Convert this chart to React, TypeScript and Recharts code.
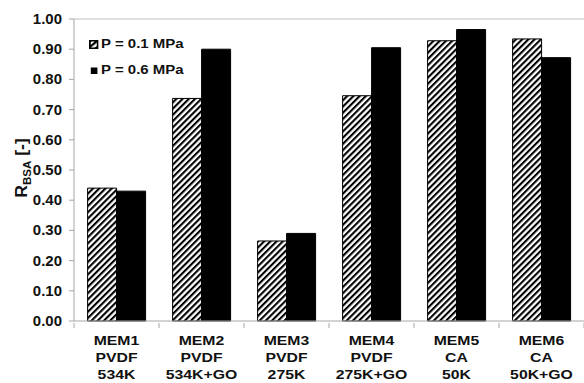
import { BarChart, Bar, XAxis, YAxis, ReferenceLine } from "recharts";

const membranes = ["MEM1", "MEM2", "MEM3", "MEM4", "MEM5", "MEM6"];
const materials = ["PVDF", "PVDF", "PVDF", "PVDF", "CA", "CA"];
const weights = ["534K", "534K+GO", "275K", "275K+GO", "50K", "50K+GO"];

const lowPressure = [0.44, 0.737, 0.265, 0.746, 0.928, 0.934];
const highPressure = [0.43, 0.9, 0.29, 0.905, 0.965, 0.872];

const seriesNames = ["P = 0.1 MPa", "P = 0.6 MPa"];

const yTicks = [0, 0.1, 0.2, 0.3, 0.4, 0.5, 0.6, 0.7, 0.8, 0.9, 1.0];

const data = membranes.map((m, i) => ({
  name: m,
  material: materials[i],
  weight: weights[i],
  low: lowPressure[i],
  high: highPressure[i],
}));

const FONT = "'Liberation Sans', Arial, sans-serif";

const CategoryTick = ({ x, y, payload, index, width }: any) => {
  const row = data[payload.index ?? index] || data[0];
  const band = (width || 510) / data.length;
  return (
    <g>
      <line x1={x - band / 2} x2={x - band / 2} y1={y} y2={y + 5} stroke="#a6a6a6" />
      {index === data.length - 1 && (
        <line x1={x + band / 2} x2={x + band / 2} y1={y} y2={y + 5} stroke="#a6a6a6" />
      )}
      <text
        transform={`translate(${x} ${y}) scale(1.17 1)`}
        textAnchor="middle"
        fontFamily={FONT}
        fontWeight="bold"
        fontSize={13.5}
        fill="#111"
      >
        <tspan x={0} y={22}>{row.name}</tspan>
        <tspan x={0} y={39}>{row.material}</tspan>
        <tspan x={0} y={56}>{row.weight}</tspan>
      </text>
    </g>
  );
};

const ValueTick = ({ x, y, payload }: any) => (
  <text
    transform={`translate(${x} ${y}) scale(1.07 1)`}
    textAnchor="end"
    dy="0.36em"
    fontFamily={FONT}
    fontWeight="bold"
    fontSize={14}
    fill="#111"
  >
    {Number(payload.value).toFixed(2)}
  </text>
);

const YLabel = ({ viewBox }: any) => {
  const cy = viewBox.y + viewBox.height / 2 - 2;
  const cx = 27;
  return (
    <text
      transform={`translate(${cx} ${cy}) rotate(-90) scale(1.1 1)`}
      textAnchor="middle"
      fontFamily={FONT}
      fontWeight="bold"
      fontSize={16}
      fill="#111"
    >
      R
      <tspan fontSize={10.5} dy={4}>BSA</tspan>
      <tspan dy={-4}> [-]</tspan>
    </text>
  );
};

const LegendBox = () => (
  <div
    style={{
      position: "absolute",
      left: 89,
      top: 31,
      fontFamily: FONT,
      fontWeight: "bold",
      fontSize: 12.5,
      color: "#111",
      transform: "scaleX(1.2)",
      transformOrigin: "left center",
    }}
  >
    <div style={{ display: "flex", alignItems: "center", height: 26 }}>
      <svg width={8} height={9} style={{ marginRight: 2 }}>
        <rect x={0.75} y={0.75} width={6.5} height={7.5} fill="url(#hatch)" stroke="#000" strokeWidth={1.5} />
      </svg>
      {seriesNames[0]}
    </div>
    <div style={{ display: "flex", alignItems: "center", height: 26 }}>
      <svg width={8} height={9} style={{ marginRight: 2 }}>
        <rect x={1.5} y={1.5} width={5.5} height={6.5} fill="#000" />
      </svg>
      {seriesNames[1]}
    </div>
  </div>
);

export default function App() {
  return (
    <div style={{ position: "absolute", left: 0, top: 0, width: 584, height: 383, background: "#fff" }}>
      <svg width={0} height={0} style={{ position: "absolute" }}>
        <defs>
          <pattern
            id="hatch"
            patternUnits="userSpaceOnUse"
            width={4.4}
            height={4.4}
            patternTransform="rotate(45)"
          >
            <rect width={4.4} height={4.4} fill="#fff" />
            <rect x={0} y={0} width={2.1} height={4.4} fill="#000" />
          </pattern>
        </defs>
      </svg>
      <BarChart
        width={584}
        height={383}
        data={data}
        margin={{ top: 19, right: 0, left: 0, bottom: 0 }}
        barGap={0}
        barCategoryGap="16%"
      >
        <XAxis
          dataKey="name"
          height={62}
          axisLine={{ stroke: "#a6a6a6" }}
          tickLine={false}
          tickSize={0}
          interval={0}
          tick={<CategoryTick />}
        />
        <YAxis
          domain={[0, 1]}
          ticks={yTicks}
          width={74}
          tickSize={5}
          tickMargin={7}
          axisLine={{ stroke: "#a6a6a6" }}
          tickLine={{ stroke: "#a6a6a6" }}
          tick={<ValueTick />}
          label={<YLabel />}
        />
        <ReferenceLine y={1} stroke="#bfbfbf" />
        <Bar dataKey="low" name={seriesNames[0]} fill="url(#hatch)" stroke="#000" strokeWidth={1} isAnimationActive={false} />
        <Bar dataKey="high" name={seriesNames[1]} fill="#000" stroke="#000" strokeWidth={1} isAnimationActive={false} />
      </BarChart>
      <LegendBox />
    </div>
  );
}
